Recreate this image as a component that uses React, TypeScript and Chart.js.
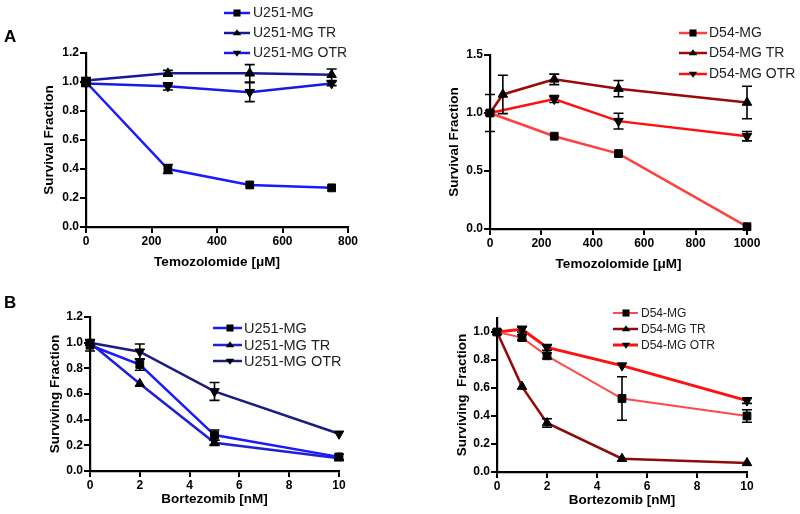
import React, { useEffect, useRef } from 'react';
import { Chart, registerables } from 'chart.js';
Chart.register(...registerables);

const FONT = '"Liberation Sans", Arial, sans-serif';

// ---------- Panel A: Temozolomide ----------
const tmzDosesU251 = [0, 250, 500, 750];
const u251Tmz = [1.0, 0.40, 0.29, 0.27];
const u251TmzErr = [0.02, 0.03, 0, 0];
const u251TrTmz = [1.01, 1.06, 1.06, 1.05];
const u251TrTmzErr = [0.02, 0.02, 0.06, 0.04];
const u251OtrTmz = [0.99, 0.97, 0.93, 0.99];
const u251OtrTmzErr = [0.02, 0.025, 0.065, 0.015];

const tmzDosesD54 = [0, 250, 500, 1000];
const tmzDosesD54Tr = [0, 50, 250, 500, 1000];
const d54Tmz = [1.0, 0.80, 0.65, 0.02];
const d54TmzErr = [0, 0, 0, 0];
const d54TrTmz = [1.0, 1.16, 1.29, 1.21, 1.09];
const d54TrTmzErr = [0.16, 0.165, 0.045, 0.07, 0.14];
const d54OtrTmz = [1.0, 1.12, 0.93, 0.80];
const d54OtrTmzErr = [0, 0.03, 0.068, 0.04];

// ---------- Panel B: Bortezomib ----------
const btzDosesU251 = [0, 2, 5, 10];
const u251Btz = [0.98, 0.83, 0.28, 0.11];
const u251BtzErr = [0.045, 0.045, 0.04, 0.02];
const u251TrBtz = [1.0, 0.68, 0.22, 0.10];
const u251TrBtzErr = [0, 0, 0.02, 0];
const u251OtrBtz = [1.0, 0.93, 0.62, 0.29];
const u251OtrBtzErr = [0.02, 0.06, 0.07, 0];

const btzDosesD54 = [0, 1, 2, 5, 10];
const d54Btz = [1.0, 0.96, 0.83, 0.525, 0.40];
const d54BtzErr = [0, 0.02, 0.02, 0.155, 0.045];
const d54TrBtz = [1.0, 0.61, 0.35, 0.095, 0.065];
const d54TrBtzErr = [0, 0, 0.03, 0, 0];
const d54OtrBtz = [1.0, 1.02, 0.89, 0.76, 0.51];
const d54OtrBtzErr = [0, 0.02, 0.02, 0, 0.02];

// ---------- labels ----------
const u251Labels = ['U251-MG', 'U251-MG TR', 'U251-MG OTR'];
const d54Labels = ['D54-MG', 'D54-MG TR', 'D54-MG OTR'];
const tmzTitle = 'Temozolomide [\u03bcM]';
const btzTitle = 'Bortezomib [nM]';

function ds(label: string, xs: number[], ys: number[], errs: number[], color: string, style: string, rot: number, width = 2.5) {
  return {
    label,
    data: xs.map((x, i) => ({ x, y: ys[i] })),
    errors: errs,
    borderColor: color,
    backgroundColor: color,
    borderWidth: width,
    pointStyle: style,
    pointRotation: rot,
    pointRadius: 5.5,
    pointBackgroundColor: '#000',
    pointBorderColor: '#000',
    pointBorderWidth: 1,
    tension: 0,
    fill: false,
    clip: false,
  };
}

const errorBarPlugin = {
  id: 'errorBars',
  afterDatasetsDraw(chart: any) {
    const ctx = chart.ctx;
    const xs = chart.scales.x, ys = chart.scales.y;
    ctx.save();
    ctx.strokeStyle = '#000';
    ctx.lineWidth = 1.6;
    chart.data.datasets.forEach((d: any) => {
      d.data.forEach((p: any, i: number) => {
        const e = d.errors ? d.errors[i] : 0;
        if (!e) return;
        const px = xs.getPixelForValue(p.x);
        const t = ys.getPixelForValue(p.y + e);
        const b = ys.getPixelForValue(p.y - e);
        ctx.beginPath();
        ctx.moveTo(px, t); ctx.lineTo(px, b);
        ctx.moveTo(px - 5, t); ctx.lineTo(px + 5, t);
        ctx.moveTo(px - 5, b); ctx.lineTo(px + 5, b);
        ctx.stroke();
      });
    });
    ctx.restore();
  },
};

function drawMarker(ctx: any, style: string, rot: number, x: number, y: number, r: number) {
  ctx.beginPath();
  if (style === 'rect') {
    const s = r * Math.SQRT1_2;
    ctx.rect(x - s, y - s, 2 * s, 2 * s);
  } else {
    const h = r * 0.75;
    if (rot === 180) {
      ctx.moveTo(x - r * 0.85, y - h * 0.6);
      ctx.lineTo(x + r * 0.85, y - h * 0.6);
      ctx.lineTo(x, y + h);
    } else {
      ctx.moveTo(x - r * 0.85, y + h * 0.6);
      ctx.lineTo(x + r * 0.85, y + h * 0.6);
      ctx.lineTo(x, y - h);
    }
    ctx.closePath();
  }
  ctx.fill();
}

const customLegendPlugin = {
  id: 'customLegend',
  afterDraw(chart: any, _args: any, opts: any) {
    if (!opts || !opts.ys) return;
    const ctx = chart.ctx;
    ctx.save();
    chart.data.datasets.forEach((d: any, i: number) => {
      const y = opts.ys[i];
      ctx.strokeStyle = d.borderColor;
      ctx.lineWidth = d.borderWidth;
      ctx.beginPath();
      ctx.moveTo(opts.x0, y);
      ctx.lineTo(opts.x1, y);
      ctx.stroke();
      ctx.fillStyle = '#000';
      drawMarker(ctx, d.pointStyle, d.pointRotation, opts.mx, y, 5);
      ctx.fillStyle = '#222';
      ctx.font = `${opts.fontSize}px ${FONT}`;
      ctx.textBaseline = 'middle';
      ctx.textAlign = 'left';
      ctx.fillText(d.label, opts.textX, y + 0.5);
    });
    ctx.restore();
  },
};

const panelLabelPlugin = {
  id: 'panelLabel',
  afterDraw(chart: any, _args: any, opts: any) {
    if (!opts || !opts.text) return;
    const ctx = chart.ctx;
    ctx.save();
    ctx.fillStyle = '#000';
    ctx.font = `bold 17px ${FONT}`;
    ctx.textBaseline = 'alphabetic';
    ctx.textAlign = 'left';
    ctx.fillText(opts.text, opts.x, opts.y);
    ctx.restore();
  },
};

function makeScales(o: any) {
  const border = { display: true, color: '#000', width: 2.2 };
  const grid = { display: true, drawOnChartArea: false, drawTicks: true, tickLength: 6, color: '#000', lineWidth: 2 };
  const tickFont = { family: FONT, size: 12, weight: 'bold' as const };
  const titleFont = { family: FONT, size: 13.5, weight: 'bold' as const };
  return {
    x: {
      type: 'linear' as const,
      min: o.xMin, max: o.xMax,
      border, grid,
      ticks: { stepSize: o.xStep, color: '#000', font: tickFont, padding: 1, maxRotation: 0, callback: (v: any) => String(v) },
      title: { display: true, text: o.xTitle, color: '#000', font: titleFont, padding: { top: 4, bottom: 4 } },
      afterFit: (s: any) => { s.height = o.xHeight; },
    },
    y: {
      type: 'linear' as const,
      min: o.yMin, max: o.yMax,
      border, grid,
      ticks: { stepSize: o.yStep, color: '#000', font: tickFont, padding: 1, callback: (v: any) => Number(v).toFixed(1) },
      afterBuildTicks: (s: any) => { s.ticks = s.ticks.filter((t: any) => t.value <= o.yTickMax + 1e-6); },
      title: { display: true, text: o.yTitle, color: '#000', font: titleFont, padding: { top: 4, bottom: 4 } },
      afterFit: (s: any) => { s.width = o.yWidth; },
    },
  };
}

function buildConfig(p: any): any {
  return {
    type: 'line',
    data: { datasets: p.datasets },
    options: {
      responsive: false,
      animation: false,
      devicePixelRatio: 1,
      layout: { padding: p.padding },
      scales: makeScales(p.scales),
      plugins: {
        legend: { display: false },
        tooltip: { enabled: false },
        customLegend: p.legend,
        panelLabel: p.label || {},
      },
    },
    plugins: [errorBarPlugin, customLegendPlugin, panelLabelPlugin],
  };
}

const panels = [
  {
    key: 'A1', left: 0, top: 0, width: 400, height: 280,
    padding: { left: 37, right: 52, top: 53, bottom: 6 },
    scales: { xMin: 0, xMax: 800, xStep: 200, yMin: 0, yMax: 1.2, yStep: 0.2, yTickMax: 1.2, xTitle: tmzTitle, yTitle: 'Survival Fraction', yWidth: 49, xHeight: 47 },
    legend: { x0: 224, x1: 250, mx: 237, textX: 253, ys: [13, 33, 53], fontSize: 14 },
    label: { text: 'A', x: 4, y: 42 },
    datasets: [
      ds(u251Labels[0], tmzDosesU251, u251Tmz, u251TmzErr, '#1a1aff', 'rect', 0),
      ds(u251Labels[1], tmzDosesU251, u251TrTmz, u251TrTmzErr, '#18189a', 'triangle', 0),
      ds(u251Labels[2], tmzDosesU251, u251OtrTmz, u251OtrTmzErr, '#1a1ae6', 'triangle', 180),
    ],
  },
  {
    key: 'A2', left: 400, top: 0, width: 400, height: 280,
    padding: { left: 42, right: 53, top: 55, bottom: 4 },
    scales: { xMin: 0, xMax: 1000, xStep: 200, yMin: 0, yMax: 1.5, yStep: 0.5, yTickMax: 1.5, xTitle: tmzTitle, yTitle: 'Survival Fraction', yWidth: 48, xHeight: 47 },
    legend: { x0: 279, x1: 307, mx: 293, textX: 309, ys: [33, 53, 74], fontSize: 14 },
    datasets: [
      ds(d54Labels[0], tmzDosesD54, d54Tmz, d54TmzErr, '#ff4040', 'rect', 0),
      ds(d54Labels[1], tmzDosesD54Tr, d54TrTmz, d54TrTmzErr, '#9a0a0a', 'triangle', 0),
      ds(d54Labels[2], tmzDosesD54, d54OtrTmz, d54OtrTmzErr, '#ff1010', 'triangle', 180),
    ],
  },
  {
    key: 'B1', left: 0, top: 280, width: 400, height: 234,
    padding: { left: 43, right: 61, top: 37, bottom: 3 },
    scales: { xMin: 0, xMax: 10, xStep: 2, yMin: 0, yMax: 1.2, yStep: 0.2, yTickMax: 1.2, xTitle: btzTitle, yTitle: 'Surviving Fraction', yWidth: 47, xHeight: 40 },
    legend: { x0: 213, x1: 242, mx: 230, textX: 244, ys: [48, 65, 81], fontSize: 14.5 },
    label: { text: 'B', x: 4, y: 28 },
    datasets: [
      ds(u251Labels[0], btzDosesU251, u251Btz, u251BtzErr, '#1a1aff', 'rect', 0),
      ds(u251Labels[1], btzDosesU251, u251TrBtz, u251TrBtzErr, '#2020d8', 'triangle', 0),
      ds(u251Labels[2], btzDosesU251, u251OtrBtz, u251OtrBtzErr, '#1c1c80', 'triangle', 180),
    ],
  },
  {
    key: 'B2', left: 400, top: 280, width: 400, height: 234,
    padding: { left: 50, right: 53, top: 38, bottom: 2 },
    scales: { xMin: 0, xMax: 10, xStep: 2, yMin: 0, yMax: 1.1, yStep: 0.2, yTickMax: 1.0, xTitle: btzTitle, yTitle: 'Surviving  Fraction', yWidth: 47, xHeight: 40 },
    legend: { x0: 213, x1: 238, mx: 226, textX: 241, ys: [33, 49, 65], fontSize: 12 },
    datasets: [
      ds(d54Labels[0], btzDosesD54, d54Btz, d54BtzErr, '#ff4848', 'rect', 0, 2),
      ds(d54Labels[1], btzDosesD54, d54TrBtz, d54TrBtzErr, '#8f0a0a', 'triangle', 0, 2.5),
      ds(d54Labels[2], btzDosesD54, d54OtrBtz, d54OtrBtzErr, '#ff1010', 'triangle', 180, 3),
    ],
  },
];

function Panel({ p }: { p: any }) {
  const ref = useRef<HTMLCanvasElement | null>(null);
  useEffect(() => {
    if (!ref.current) return;
    const chart = new Chart(ref.current, buildConfig(p));
    return () => chart.destroy();
  }, []);
  return (
    <canvas
      ref={ref}
      width={p.width}
      height={p.height}
      style={{ position: 'absolute', left: p.left, top: p.top, width: p.width, height: p.height }}
    />
  );
}

export default function App() {
  return (
    <div style={{ position: 'absolute', left: 0, top: 0, width: 800, height: 514, background: '#fff', overflow: 'hidden' }}>
      {panels.map((p) => (
        <Panel key={p.key} p={p} />
      ))}
    </div>
  );
}
